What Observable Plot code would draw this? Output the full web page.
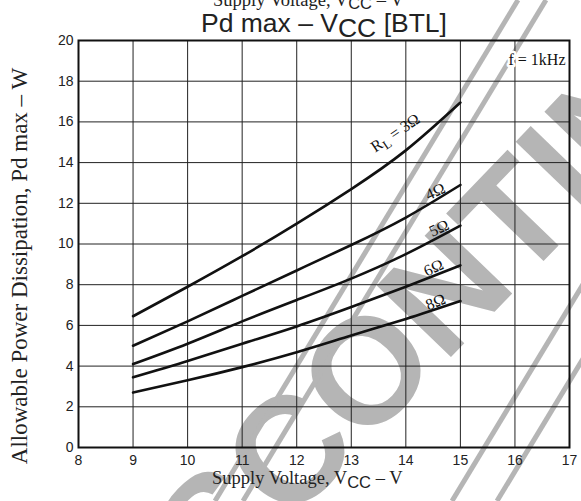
<!DOCTYPE html>
<html><head><meta charset="utf-8">
<script src="https://cdn.jsdelivr.net/npm/d3@7"></script>
<script src="https://cdn.jsdelivr.net/npm/@observablehq/plot@0.6"></script>
<style>body{margin:0;background:#fff} svg{display:block}</style>
</head><body><div id="chart"></div>
<script>
// Supply voltage (V) at which each curve is sampled
const voltages = [9, 10, 11, 12, 13, 14, 15];
// Allowable power dissipation (W) per load
const pd3 = [6.45, 7.9, 9.4, 11.0, 12.7, 14.6, 16.95];
const pd4 = [5.0, 6.2, 7.45, 8.7, 9.95, 11.3, 12.9];
const pd5 = [4.1, 5.1, 6.2, 7.25, 8.3, 9.5, 10.9];
const pd6 = [3.45, 4.25, 5.1, 5.95, 6.9, 7.9, 8.95];
const pd8 = [2.7, 3.3, 3.95, 4.68, 5.5, 6.32, 7.2];
const loads = ["3Ω", "4Ω", "5Ω", "6Ω", "8Ω"];
const seriesValues = [pd3, pd4, pd5, pd6, pd8];
// curve labels (annotation text and where its baseline sits, in data units)
const labelText = ["RL = 3Ω", "4Ω", "5Ω", "6Ω", "8Ω"];
const labelV = [13.86, 14.58, 14.65, 14.55, 14.58];
const labelPd = [15.25, 12.35, 10.55, 8.6, 6.92];
const labelAngle = [-34, -25, -25, -25, -22];
// ticks
const xTicks = [8, 9, 10, 11, 12, 13, 14, 15, 16, 17];
const yTicks = [0, 2, 4, 6, 8, 10, 12, 14, 16, 18, 20];

const rows = loads.flatMap((load, i) => voltages.map((v, j) => ({load, v, pd: seriesValues[i][j]})));
const labels = labelText.map((t, i) => ({t, v: labelV[i], pd: labelPd[i], a: labelAngle[i]}));

const serif = "'Liberation Serif', 'Times New Roman', serif";
const sans = "'Liberation Sans', Arial, sans-serif";
const wmGrey = "#b5b5b5";

const plot = Plot.plot({
  width: 581, height: 501,
  marginTop: 40, marginBottom: 54, marginLeft: 78, marginRight: 12,
  style: {fontFamily: sans, fontSize: "14px", color: "#222", background: "#fff"},
  x: {domain: [8, 17], ticks: xTicks},
  y: {domain: [0, 20], ticks: yTicks},
  marks: [
    Plot.text(["DISCONTINUED"], {frameAnchor: "middle", dx: 152, dy: 18, rotate: -46,
      fontSize: 150, fontWeight: "bold", fill: wmGrey, fontFamily: sans}),
    Plot.gridX(xTicks, {stroke: "#222", strokeOpacity: 1, strokeWidth: 1}),
    Plot.gridY(yTicks, {stroke: "#222", strokeOpacity: 1, strokeWidth: 1}),
    Plot.frame({stroke: "#111", strokeWidth: 2}),
    Plot.axisX(xTicks, {tickSize: 0, tickPadding: 8, fontSize: 14, label: null, fill: "#222"}),
    Plot.axisY(yTicks, {tickSize: 0, tickPadding: 5, fontSize: 14, label: null, fill: "#222"}),
    Plot.line(rows, {x: "v", y: "pd", z: "load", curve: "natural", stroke: "#111", strokeWidth: 2.6}),
    Plot.text(labels, {x: "v", y: "pd", text: "t", rotate: "a", lineAnchor: "bottom",
      fontFamily: serif, fontSize: 16, fill: "#111"}),
    Plot.text(["f = 1kHz"], {frameAnchor: "top-right", dx: -4, dy: 13, textAnchor: "end",
      fontFamily: serif, fontSize: 16, fill: "#111", stroke: "#fff", strokeWidth: 5})
  ]
});

const svg = d3.select(plot);
// watermark hatch strokes, placed beneath the grid
const wm = svg.insert("g", ":nth-child(3)").attr("stroke", wmGrey).attr("stroke-width", 5).attr("fill", "none");
[[215, 518], [243, 546], [452, 755], [497, 800]].forEach(([xb, xt]) =>
  wm.append("line").attr("x1", xb).attr("y1", 501).attr("x2", xt).attr("y2", 0));

// subscript for R_L
svg.selectAll("text").filter(function() { return this.textContent === "RL = 3Ω"; }).each(function() {
  const t = d3.select(this);
  t.text(null);
  t.append("tspan").text("R");
  t.append("tspan").attr("dy", 4).attr("font-size", 13).text("L");
  t.append("tspan").attr("dy", -4).text(" = 3Ω");
});

function vccText(g, x, y, pre, post, size, fam, subSize, dy, anchor) {
  const t = g.append("text").attr("x", x).attr("y", y).attr("font-family", fam)
    .attr("font-size", size).attr("fill", "#222").attr("text-anchor", anchor || "start");
  t.append("tspan").text(pre);
  t.append("tspan").attr("dy", dy).attr("font-family", sans).attr("font-size", subSize).text("CC");
  t.append("tspan").attr("dy", -dy).text(post);
  return t;
}
// clipped upper text
vccText(svg, 213, 6, "Supply Voltage, V", " – V", 18.5, serif, 16.5, 3);
// title
vccText(svg, 201, 32, "Pd max – V", " [BTL]", 26.5, sans, 26.5, 5);
// x axis label
vccText(svg, 212, 484, "Supply Voltage, V", " – V", 18.5, serif, 16.5, 4);
// y axis label
svg.append("text").attr("transform", "translate(27,266) rotate(-90)")
  .attr("text-anchor", "middle").attr("font-family", serif).attr("font-size", 23)
  .attr("fill", "#222").text("Allowable Power Dissipation, Pd max – W");

document.getElementById("chart").append(plot);
</script>
</body></html>
